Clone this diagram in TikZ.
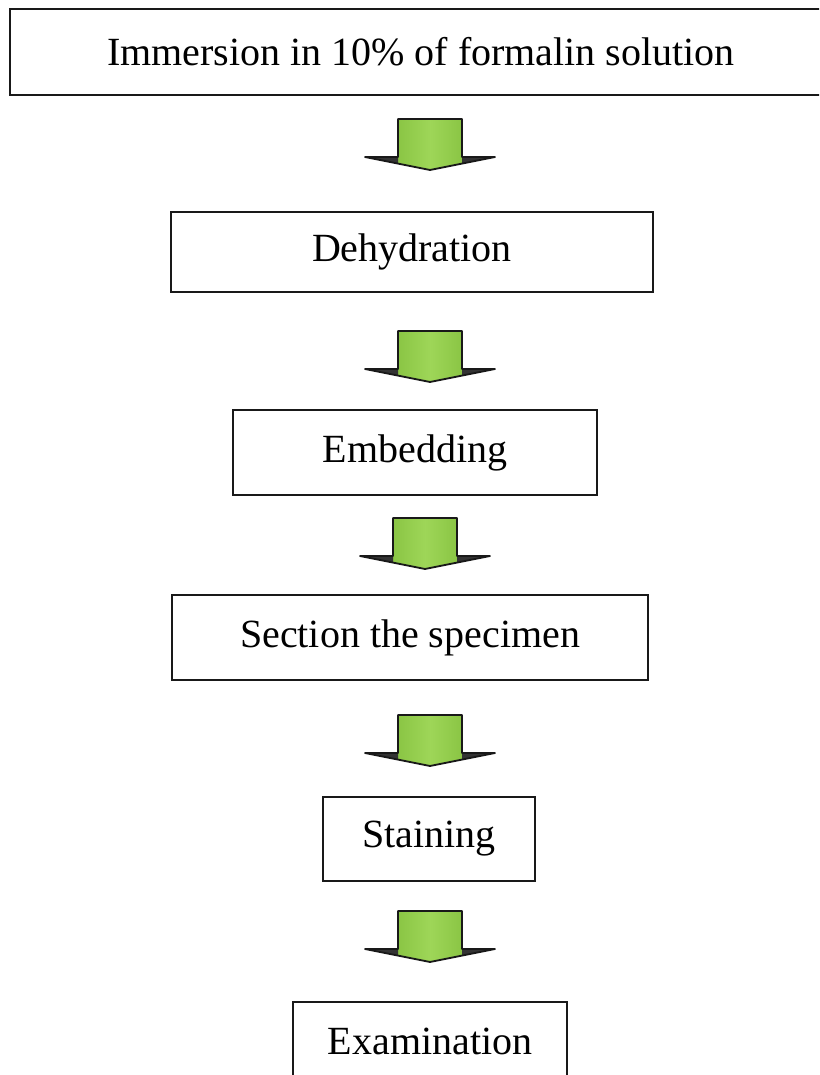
\documentclass[tikz,border=0pt]{standalone}
\usepackage{fontspec}
\setmainfont{Liberation Serif}
\definecolor{gmid}{RGB}{158,214,88}
\definecolor{gedge}{RGB}{118,180,48}
\definecolor{boxline}{RGB}{25,25,25}
\tikzset{
  stepbox/.style={draw=boxline, line width=2.4pt, inner sep=0pt, font=\fontsize{40}{44}\selectfont},
  garrow/.pic={
    \path[left color=gedge, right color=gedge, middle color=gmid]
      (-32,0) -- (32,0) -- (32,38) -- (65,38) -- (0,51) -- (-65,38) -- (-32,38) -- cycle;
    \fill[black!80] (-65,38) -- (-32,38) -- (-32,44.7) -- cycle;
    \fill[black!80] (65,38) -- (32,38) -- (32,44.7) -- cycle;
    \draw[black!90, line width=1.8pt, line join=round]
      (-32,0) -- (32,0) -- (32,38) -- (65,38) -- (0,51) -- (-65,38) -- (-32,38) -- cycle;
  }
}
\begin{document}
\begin{tikzpicture}[x=1pt,y=-1pt]
\useasboundingbox (0,0) rectangle (819,1075);
\clip (0,0) rectangle (819,1075);
\fill[white] (0,0) rectangle (819,1075);

\node[stepbox, minimum width=822pt, minimum height=86pt] (s1) at (421,52) {Immersion in 10\% of formalin solution};
\node[stepbox, minimum width=482pt, minimum height=80pt] (s2) at (412,252) {Dehydration};
\node[stepbox, minimum width=364pt, minimum height=85pt] (s3) at (415,452.5) {Embedding};
\node[stepbox, minimum width=476pt, minimum height=85pt] (s4) at (410,637.5) {Section the specimen};
\node[stepbox, minimum width=212pt, minimum height=84pt] (s5) at (429,839) {Staining};
\node[stepbox, minimum width=274pt, minimum height=78pt] (s6) at (430,1041) {Examination};

\coordinate (a1) at (430,119);
\coordinate (a2) at (430,331);
\coordinate (a3) at (425,518);
\coordinate (a4) at (430,715);
\coordinate (a5) at (430,911);
\foreach \a in {a1,a2,a3,a4,a5} { \pic at (\a) {garrow}; }
\end{tikzpicture}
\end{document}
